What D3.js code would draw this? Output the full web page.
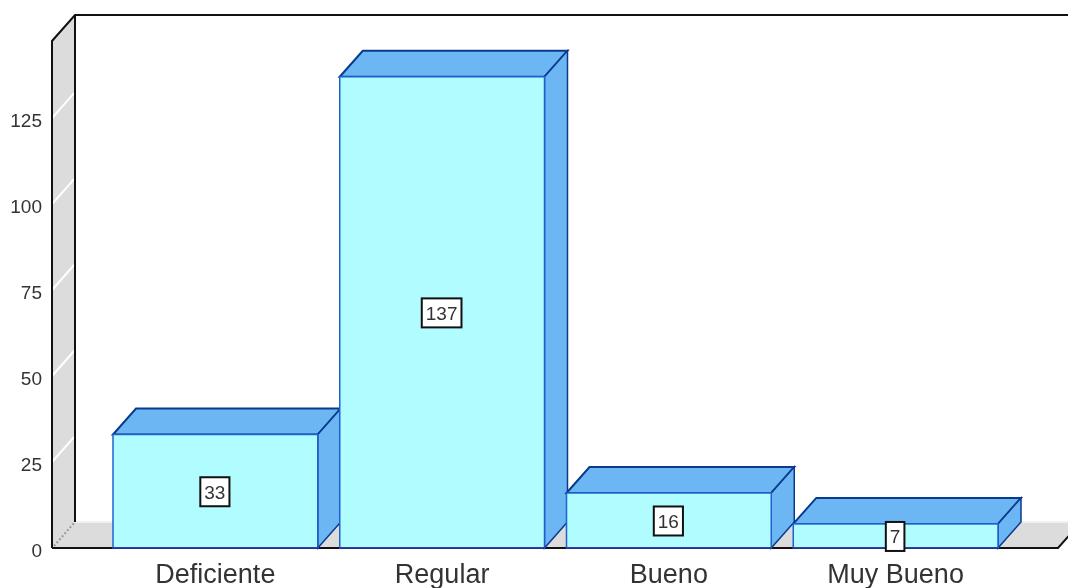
<!DOCTYPE html>
<html><head><meta charset="utf-8">
<script src="https://cdn.jsdelivr.net/npm/d3@7"></script>
<style>html,body{margin:0;padding:0;background:#fff;overflow:hidden}svg{display:block;filter:blur(0.35px)}text{font-family:"Liberation Sans",Arial,sans-serif}</style>
</head><body><svg id="c" width="1068" height="588"></svg>
<script>
const categories = ["Deficiente", "Regular", "Bueno", "Muy Bueno"];
const values = [33, 137, 16, 7];
const tickValues = [0, 25, 50, 75, 100, 125];

const svg = d3.select("#c");
const dx = 23, dy = -26;
const y = d3.scaleLinear().domain([0, 147.4]).range([548, 41]);
const x = d3.scaleBand().domain(categories).range([113, 998]).paddingInner(0.097).paddingOuter(0);
const xL = 52, xR = 1058, yTop = 41;
const pts = a => a.map(p => p.join(",")).join(" ");

// floor
svg.append("polygon").attr("points", pts([[xL, y(0)], [xL+dx, y(0)+dy], [xR+dx, y(0)+dy], [xR, y(0)]])).attr("fill", "#dcdcdc");
svg.append("line").attr("x1", xL+dx).attr("x2", 1068).attr("y1", y(0)+dy).attr("y2", y(0)+dy).attr("stroke", "#f0f0f0").attr("stroke-width", 2);
// left wall
svg.append("polygon").attr("points", pts([[xL, y(0)], [xL, yTop], [xL+dx, yTop+dy], [xL+dx, y(0)+dy]])).attr("fill", "#dcdcdc");
// wall grid lines
svg.selectAll("line.g").data(tickValues.filter(d => d > 0)).join("line").attr("class", "g")
  .attr("x1", xL).attr("x2", xL+dx).attr("y1", d => y(d)).attr("y2", d => y(d)+dy)
  .attr("stroke", "#fff").attr("stroke-width", 2);
svg.append("line").attr("x1", xL+2).attr("x2", xL+dx).attr("y1", y(0)-2).attr("y2", y(0)+dy)
  .attr("stroke", "#999").attr("stroke-width", 2).attr("stroke-dasharray", "2 2");
// frame
const frame = d3.path();
frame.moveTo(xL, y(0)); frame.lineTo(xL, yTop); frame.lineTo(xL+dx, yTop+dy); frame.lineTo(1068, yTop+dy);
frame.moveTo(xL+dx, yTop+dy); frame.lineTo(xL+dx, y(0)+dy);
frame.moveTo(xL, y(0)); frame.lineTo(xR, y(0)); frame.lineTo(xR+dx, y(0)+dy);
svg.append("path").attr("d", frame.toString()).attr("fill", "none").attr("stroke", "#111").attr("stroke-width", 2);

// tick labels
svg.selectAll("text.t").data(tickValues).join("text").attr("class", "t")
  .attr("x", 42).attr("y", d => y(d)+2).attr("dy", "0.36em").attr("text-anchor", "end")
  .attr("font-size", 19).attr("fill", "#333").text(d => d);

// bars
const bars = svg.selectAll("g.b").data(categories.map((c, i) => ({c, v: values[i]}))).join("g").attr("class", "b");
bars.each(function(d) {
  const g = d3.select(this);
  const a = x(d.c), b = a + x.bandwidth(), t = y(d.v), z = y(0);
  g.append("polygon").attr("points", pts([[a, t], [a+dx, t+dy], [b+dx, t+dy], [b, t]]))
    .attr("fill", "#6cb6f4").attr("stroke", "#0a3a90").attr("stroke-width", 2);
  g.append("polygon").attr("points", pts([[b, t], [b+dx, t+dy], [b+dx, z+dy], [b, z]]))
    .attr("fill", "#6cb6f4").attr("stroke", "#0a3a90").attr("stroke-width", 1.5);
  g.append("rect").attr("x", a).attr("y", t).attr("width", b-a).attr("height", z-t)
    .attr("fill", "#b0fcff").attr("stroke", "#1c63d0").attr("stroke-width", 1.5);
  g.append("line").attr("x1", a).attr("x2", b).attr("y1", z).attr("y2", z).attr("stroke", "#2a2a90").attr("stroke-width", 1.5);
  // value label
  const cy = (t + z) / 2 + 0.5, cx = (a + b) / 2 - 0.5;
  const box = g.append("rect").attr("fill", "#fff").attr("stroke", "#111").attr("stroke-width", 2);
  const tx = g.append("text").attr("x", cx).attr("y", cy).attr("dy", "0.36em").attr("text-anchor", "middle")
    .attr("font-size", 19).attr("fill", "#333").text(d.v);
  const w = tx.node().getComputedTextLength() + 8;
  box.attr("x", cx - w/2).attr("y", cy - 14.5).attr("width", w).attr("height", 29);
  g.append("text").attr("x", cx + 0.5).attr("y", 583).attr("text-anchor", "middle")
    .attr("font-size", 27).attr("fill", "#333").text(d.c);
});
</script></body></html>
